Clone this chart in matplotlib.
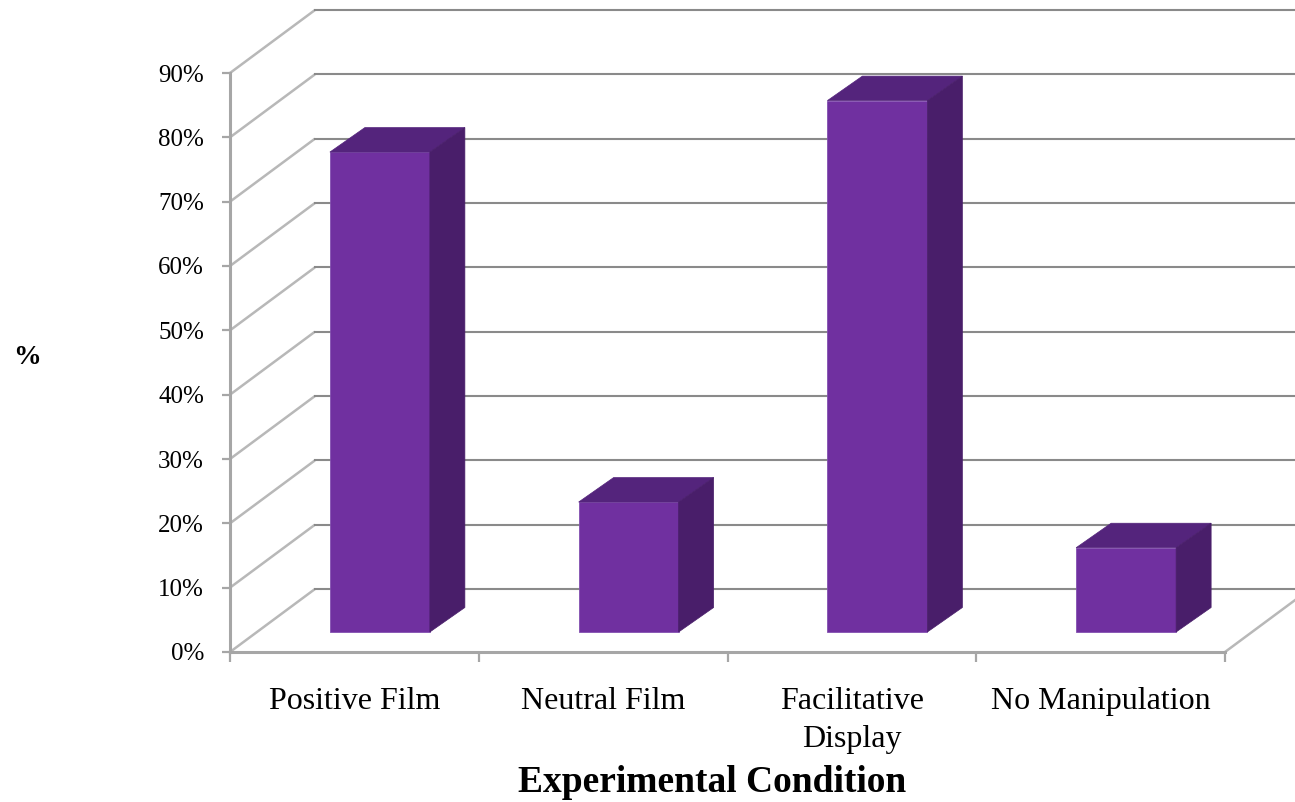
import matplotlib
matplotlib.use('Agg')
import matplotlib.pyplot as plt
from matplotlib.patches import Polygon
import numpy as np

# ---- data ----
categories = ['Positive Film', 'Neutral Film', 'Facilitative\nDisplay', 'No Manipulation']
values = [74.6, 20.2, 82.6, 13.1]
yticks = [0, 10, 20, 30, 40, 50, 60, 70, 80, 90]
ytick_labels = ['0%', '10%', '20%', '30%', '40%', '50%', '60%', '70%', '80%', '90%']
x_title = 'Experimental Condition'
y_title = '%'

# ---- style ----
W, H = 1295, 802
SERIF = ['Liberation Serif', 'DejaVu Serif']
front_c = '#7030A0'
top_c = '#54247C'
side_c = '#491E6A'
grid_c = '#8a8a8a'
diag_c = '#b8b8b8'
axis_c = '#a6a6a6'

fig = plt.figure(figsize=(W / 100, H / 100), dpi=100)
ax = fig.add_axes([230 / W, (H - 652) / H, 995 / W, 579 / H])
ax.set_xlim(0, 4)
ax.set_ylim(0, 90)

px_x = 995 / 4.0
px_y = 579 / 90.0
Dx, Dy = 85 / px_x, 63 / px_y          # wall depth offset
fdx, fdy = 25.5 / px_x, 20 / px_y      # bar front-face depth offset
bdx, bdy = 35 / px_x, 24.5 / px_y      # bar depth
bw = 100 / px_x

# walls: side-wall diagonals and back-wall gridlines
for v in yticks:
    ax.plot([0, Dx], [v, v + Dy], color=diag_c, lw=1.8, clip_on=False, zorder=1,
            solid_capstyle='butt')
    ax.plot([Dx, 4 + Dx], [v + Dy, v + Dy], color=grid_c, lw=1.5, clip_on=False, zorder=1)
# floor right edge
ax.plot([4, 4 + Dx], [0, Dy], color=diag_c, lw=1.8, clip_on=False, zorder=1)

# bars
centers = np.arange(len(values)) + 0.5
ax.bar(centers + fdx, values, width=bw, bottom=fdy, color=front_c,
       edgecolor='#8350b0', linewidth=0.6, zorder=3, clip_on=False)
for c, v in zip(centers, values):
    xl = c + fdx - bw / 2
    xr = c + fdx + bw / 2
    top = fdy + v
    ax.add_patch(Polygon([(xl, top), (xr, top), (xr + bdx, top + bdy), (xl + bdx, top + bdy)],
                         closed=True, facecolor=top_c, edgecolor=top_c, lw=0.5,
                         zorder=3, clip_on=False))
    ax.add_patch(Polygon([(xr, fdy), (xr + bdx, fdy + bdy), (xr + bdx, top + bdy), (xr, top)],
                         closed=True, facecolor=side_c, edgecolor=side_c, lw=0.5,
                         zorder=3, clip_on=False))

# axes styling
for s in ['top', 'right']:
    ax.spines[s].set_visible(False)
for s in ['left', 'bottom']:
    ax.spines[s].set_color(axis_c)
    ax.spines[s].set_linewidth(2.2)
    ax.spines[s].set_zorder(2)

ax.set_yticks(yticks)
ax.set_yticklabels(ytick_labels, fontsize=18, family=SERIF)
ax.tick_params(axis='y', direction='out', length=5.8, width=1.6, color=axis_c, pad=13)

ax.set_xticks(np.arange(0, 5))
ax.set_xticklabels([])
ax.tick_params(axis='x', which='major', direction='out', length=7, width=1.6, color=axis_c)
ax.set_xticks(centers, minor=True)
ax.set_xticklabels(categories, minor=True, fontsize=23, family=SERIF, linespacing=1.4)
ax.tick_params(axis='x', which='minor', length=0, pad=25)
ax.set_facecolor('none')

fig.text(712.5 / W, 1 - 792 / H, x_title, ha='center', va='baseline',
         fontsize=27, fontweight='bold', family=SERIF)
fig.text(26.5 / W, 1 - 357 / H, y_title, ha='center', va='center',
         fontsize=20, fontweight='bold', family=SERIF)

fig.savefig('out.png', dpi=100)
